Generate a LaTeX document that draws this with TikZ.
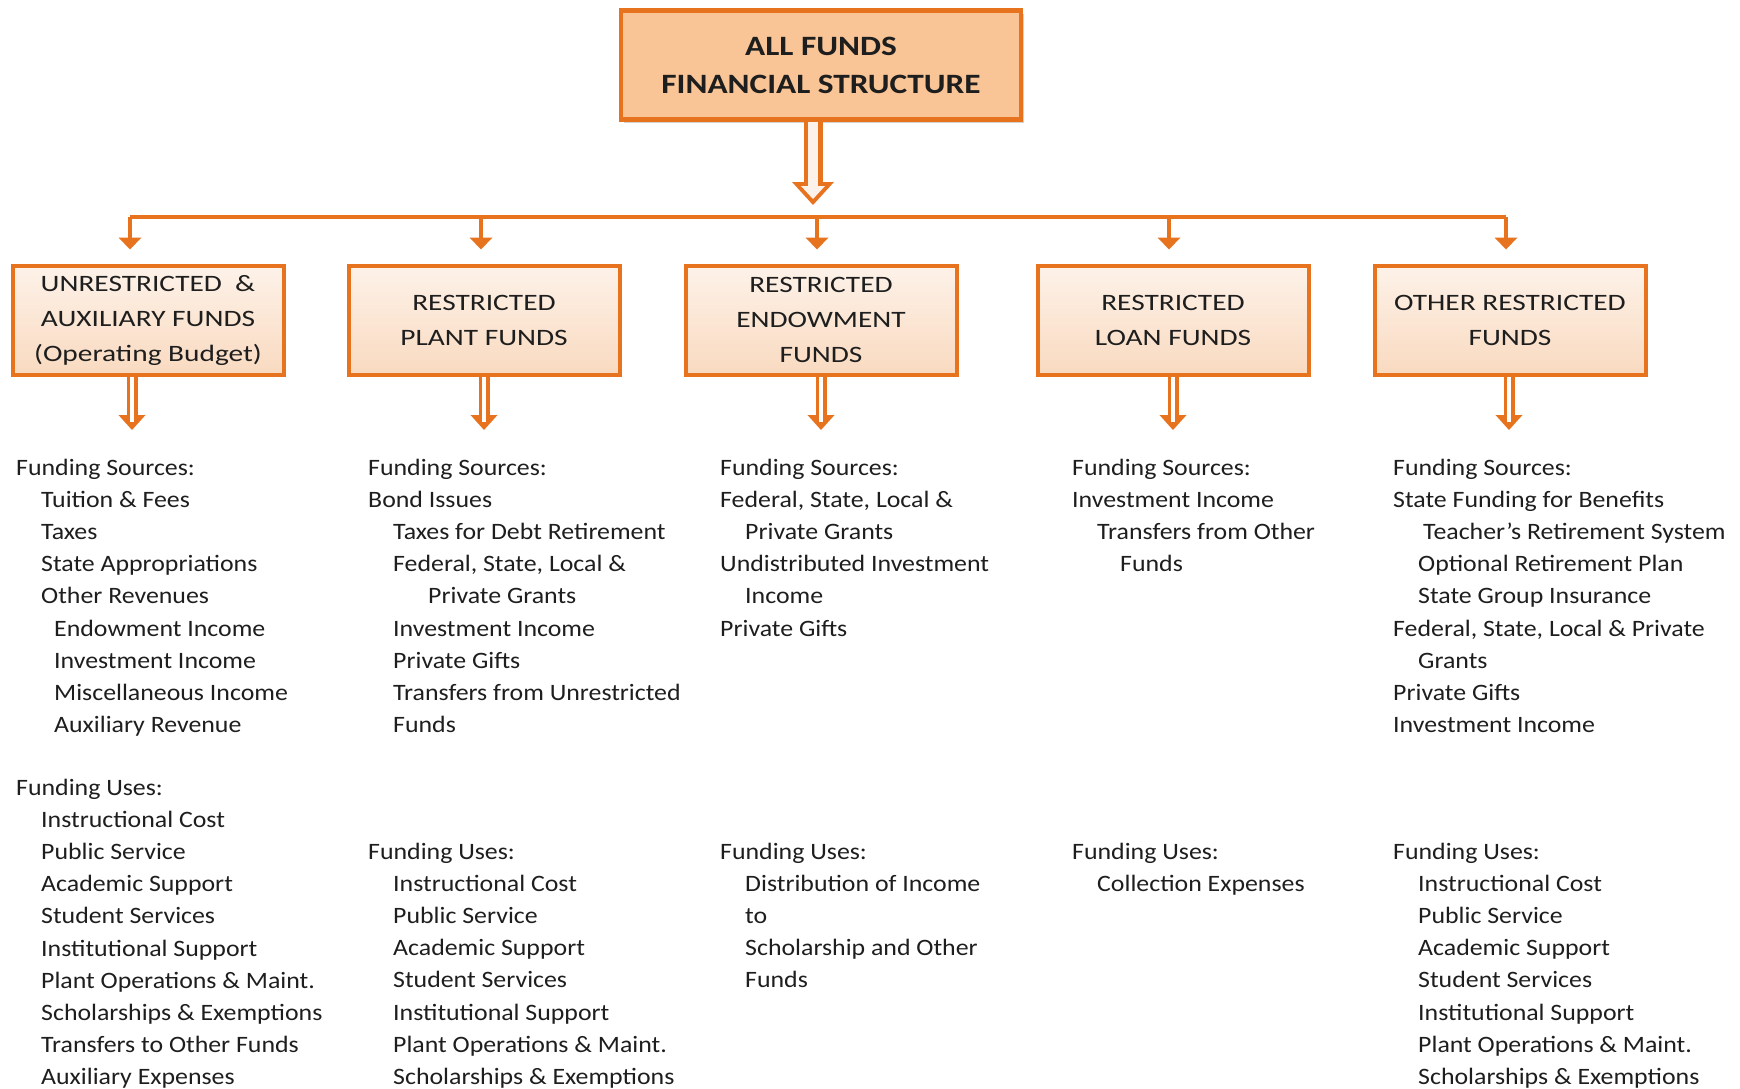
\documentclass[tikz,border=0pt]{standalone}
\usepackage{fontspec}
\setmainfont{Carlito}
\newfontfamily\listfont[FakeStretch=1.1]{Carlito}
\newfontfamily\boxfont[FakeStretch=1.25]{Carlito}
\newfontfamily\titlefont[FakeStretch=1.19]{Carlito}
\usetikzlibrary{positioning,arrows.meta,shadows}
\definecolor{FundLine}{HTML}{E8731F}
\definecolor{FundTop}{HTML}{F9C596}
\definecolor{FundPale}{HTML}{FDF2E9}
\definecolor{FundPeach}{HTML}{F9DAC0}
\definecolor{FundInk}{HTML}{1E1E1E}
\newcommand{\indA}{\hspace*{25pt}}
\newcommand{\indB}{\hspace*{38pt}}

\begin{document}
\begin{tikzpicture}[x=1pt,y=-1pt,>=Triangle]
  \tikzstyle{topbox}=[draw=FundLine,line width=4.5pt,fill=FundTop,
    minimum width=400pt,minimum height=109pt,align=center,text=FundInk,
    font=\titlefont\fontsize{28}{38}\selectfont\bfseries,
    drop shadow={opacity=0.35,shadow xshift=3pt,shadow yshift=-4pt}]
  \tikzstyle{fundbox}=[draw=FundLine,line width=4pt,top color=FundPale,
    bottom color=FundPeach,minimum width=271pt,minimum height=109pt,
    align=center,text=FundInk,font=\boxfont\fontsize{23.5}{35}\selectfont]
  \tikzstyle{listtext}=[anchor=north west,inner sep=0pt,align=left,
    text=FundInk,font=\listfont\fontsize{23.5}{32.1}\selectfont]
  \tikzstyle{bus}=[draw=FundLine,line width=4.5pt]
  \tikzstyle{busarrow}=[draw=FundLine,line width=4.5pt,
    -{Triangle[width=23pt,length=12pt,line width=0pt]},shorten >=14pt]
  \tikzstyle{twinarrow}=[draw=FundLine,line width=11pt,
    -{Triangle[width=27pt,length=15pt,line width=0pt]},
    postaction={draw=white,line width=4.5pt,-,shorten >=8pt}]
  \tikzstyle{hollowarrow}=[draw=FundLine,line width=19pt,
    -{Triangle[width=42pt,length=23pt,line width=0pt]},
    postaction={draw=FundPale,line width=10pt,
      -{Triangle[width=24pt,length=13pt,line width=0pt]},shorten >=6pt}]

  \useasboundingbox[fill=white] (0,0) rectangle (1740,1089);

  % title
  \node[topbox] (all) at (821,65) {ALL FUNDS\\FINANCIAL STRUCTURE};

  % fund boxes
  \node[fundbox] (unres) at (148,320) {UNRESTRICTED\ \ \&\\AUXILIARY FUNDS\\(Operating Budget)};
  \node[fundbox] (plant) at (484,320) {RESTRICTED\\PLANT FUNDS};
  \node[fundbox] (endow) at (821,320) {RESTRICTED\\ENDOWMENT\\FUNDS};
  \node[fundbox] (loan) at (1173,320) {RESTRICTED\\LOAN FUNDS};
  \node[fundbox] (other) at (1510,320) {OTHER RESTRICTED\\FUNDS};

  % connectors
  \coordinate (hub) at (813,205);
  \coordinate (b1) at (130,217);
  \coordinate (b2) at (481,217);
  \coordinate (b3) at (817,217);
  \coordinate (b4) at (1169,217);
  \coordinate (b5) at (1506,217);
  \draw[hollowarrow] (all.south -| hub) -- (hub);
  \draw[bus] (b1) -- (b5);
  \foreach \b/\f in {b1/unres,b2/plant,b3/endow,b4/loan,b5/other}
    \draw[busarrow] (\b) -- (\f.north -| \b);

  \coordinate (d1) at (132,430);
  \coordinate (d2) at (484,430);
  \coordinate (d3) at (821,430);
  \coordinate (d4) at (1173,430);
  \coordinate (d5) at (1509,430);
  \foreach \f/\d in {unres/d1,plant/d2,endow/d3,loan/d4,other/d5}
    \draw[twinarrow] (\f.south -| \d) -- (\d);

  % funding sources
  \node[listtext] (src1) at (16,459) {Funding Sources:\\
    \indA Tuition \& Fees\\\indA Taxes\\\indA State Appropriations\\
    \indA Other Revenues\\\indB Endowment Income\\\indB Investment Income\\
    \indB Miscellaneous Income\\\indB Auxiliary Revenue};
  \node[listtext] (src2) at (368,459) {Funding Sources:\\Bond Issues\\
    \indA Taxes for Debt Retirement\\\indA Federal, State, Local \&\\
    \hspace*{60pt}Private Grants\\\indA Investment Income\\\indA Private Gifts\\
    \indA Transfers from Unrestricted\\\indA Funds};
  \node[listtext] (src3) at (720,459) {Funding Sources:\\
    Federal, State, Local \&\\\indA Private Grants\\Undistributed Investment\\
    \indA Income\\Private Gifts};
  \node[listtext] (src4) at (1072,459) {Funding Sources:\\Investment Income\\
    \indA Transfers from Other\\\hspace*{48pt}Funds};
  \node[listtext] (src5) at (1393,459) {Funding Sources:\\
    State Funding for Benefits\\\hspace*{30pt}Teacher’s Retirement System\\
    \indA Optional Retirement Plan\\\indA State Group Insurance\\
    Federal, State, Local \& Private\\\indA Grants\\Private Gifts\\
    Investment Income};

  % funding uses
  \node[listtext] (use1) at (16,779) {Funding Uses:\\
    \indA Instructional Cost\\\indA Public Service\\\indA Academic Support\\
    \indA Student Services\\\indA Institutional Support\\
    \indA Plant Operations \& Maint.\\\indA Scholarships \& Exemptions\\
    \indA Transfers to Other Funds\\\indA Auxiliary Expenses};
  \node[listtext] (use2) at (368,843) {Funding Uses:\\
    \indA Instructional Cost\\\indA Public Service\\\indA Academic Support\\
    \indA Student Services\\\indA Institutional Support\\
    \indA Plant Operations \& Maint.\\\indA Scholarships \& Exemptions};
  \node[listtext] (use3) at (720,843) {Funding Uses:\\
    \indA Distribution of Income\\\indA to\\\indA Scholarship and Other\\
    \indA Funds};
  \node[listtext] (use4) at (1072,843) {Funding Uses:\\
    \indA Collection Expenses};
  \node[listtext] (use5) at (1393,843) {Funding Uses:\\
    \indA Instructional Cost\\\indA Public Service\\\indA Academic Support\\
    \indA Student Services\\\indA Institutional Support\\
    \indA Plant Operations \& Maint.\\\indA Scholarships \& Exemptions};
\end{tikzpicture}
\end{document}
